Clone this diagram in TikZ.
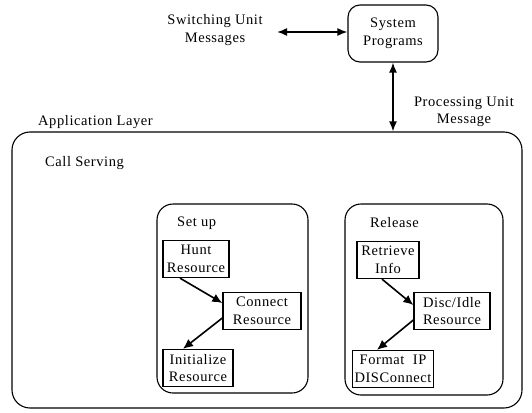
\documentclass[tikz,border=0pt]{standalone}
\usepackage{fontspec}
\setmainfont{Liberation Serif}[LetterSpace=4]
\usetikzlibrary{arrows.meta}
\begin{document}
\begin{tikzpicture}[x=1pt,y=-1pt,
  font=\fontsize{14.5}{17.5}\selectfont,
  txt/.style={align=center,inner sep=0pt},
  lbl/.style={anchor=west,inner sep=0pt},
  region/.style={draw,line width=1.1pt,rounded corners=16pt},
  task/.style={draw,line width=1.3pt,align=center,inner sep=2pt,minimum height=37pt},
  biarrow/.style={line width=1.6pt,{Latex[length=10pt,width=8pt]}-{Latex[length=10pt,width=8pt]}},
  flow/.style={line width=1.6pt,-{Latex[length=10pt,width=9pt]}}]
\useasboundingbox (0,0) rectangle (532,412);

% top level: system programs and messages
\node[draw,line width=1.1pt,rounded corners=12pt,minimum width=90pt,minimum height=57pt,txt] (sys) at (393,33.5) {System\\Programs};
\node[txt] (swu) at (215,30) {Switching Unit\\Messages};
\node[txt] (pum) at (464,112) {Processing Unit\\Message};
\coordinate (swtip) at (277,32);
\draw[biarrow] (swtip) -- (swtip -| sys.west);

% application layer
\node[region,rounded corners=18pt,minimum width=510pt,minimum height=276pt] (app) at (267,270) {};
\node[lbl] (applbl) at (38,122) {Application Layer};
\node[lbl] (call) at (45,163) {Call Serving};
\draw[biarrow] (sys.south) -- (sys.south |- app.north);

% set up phase
\node[region,minimum width=151pt,minimum height=189pt] (setup) at (232.5,298.5) {};
\node[lbl] (setuplbl) at (177,223) {Set up};
\node[task,minimum width=66pt] (hunt) at (196,259) {Hunt\\Resource};
\node[task,minimum width=78pt] (conn) at (262,311) {Connect\\Resource};
\node[task,minimum width=70pt] (init) at (198,368) {Initialize\\Resource};
\draw[flow] ([xshift=-16pt]hunt.south) -- ([yshift=8pt]conn.west);
\draw[flow] ([yshift=-7pt]conn.west) -- ([xshift=-15pt]init.north);

% release phase
\node[region,minimum width=158pt,minimum height=191pt] (rel) at (424,299.5) {};
\node[lbl] (rellbl) at (370,223) {Release};
\node[task,minimum width=62pt] (retr) at (388,260) {Retrieve\\Info};
\node[task,minimum width=76pt] (disc) at (452,311) {Disc/Idle\\Resource};
\node[task,minimum width=74pt] (fmt) at (393,369) {Format\ \ IP\\DISConnect};
\draw[flow] ([xshift=-6pt]retr.south) -- ([yshift=6pt]disc.west);
\draw[flow] ([yshift=-9pt]disc.west) -- ([xshift=-16pt]fmt.north);
\end{tikzpicture}
\end{document}
